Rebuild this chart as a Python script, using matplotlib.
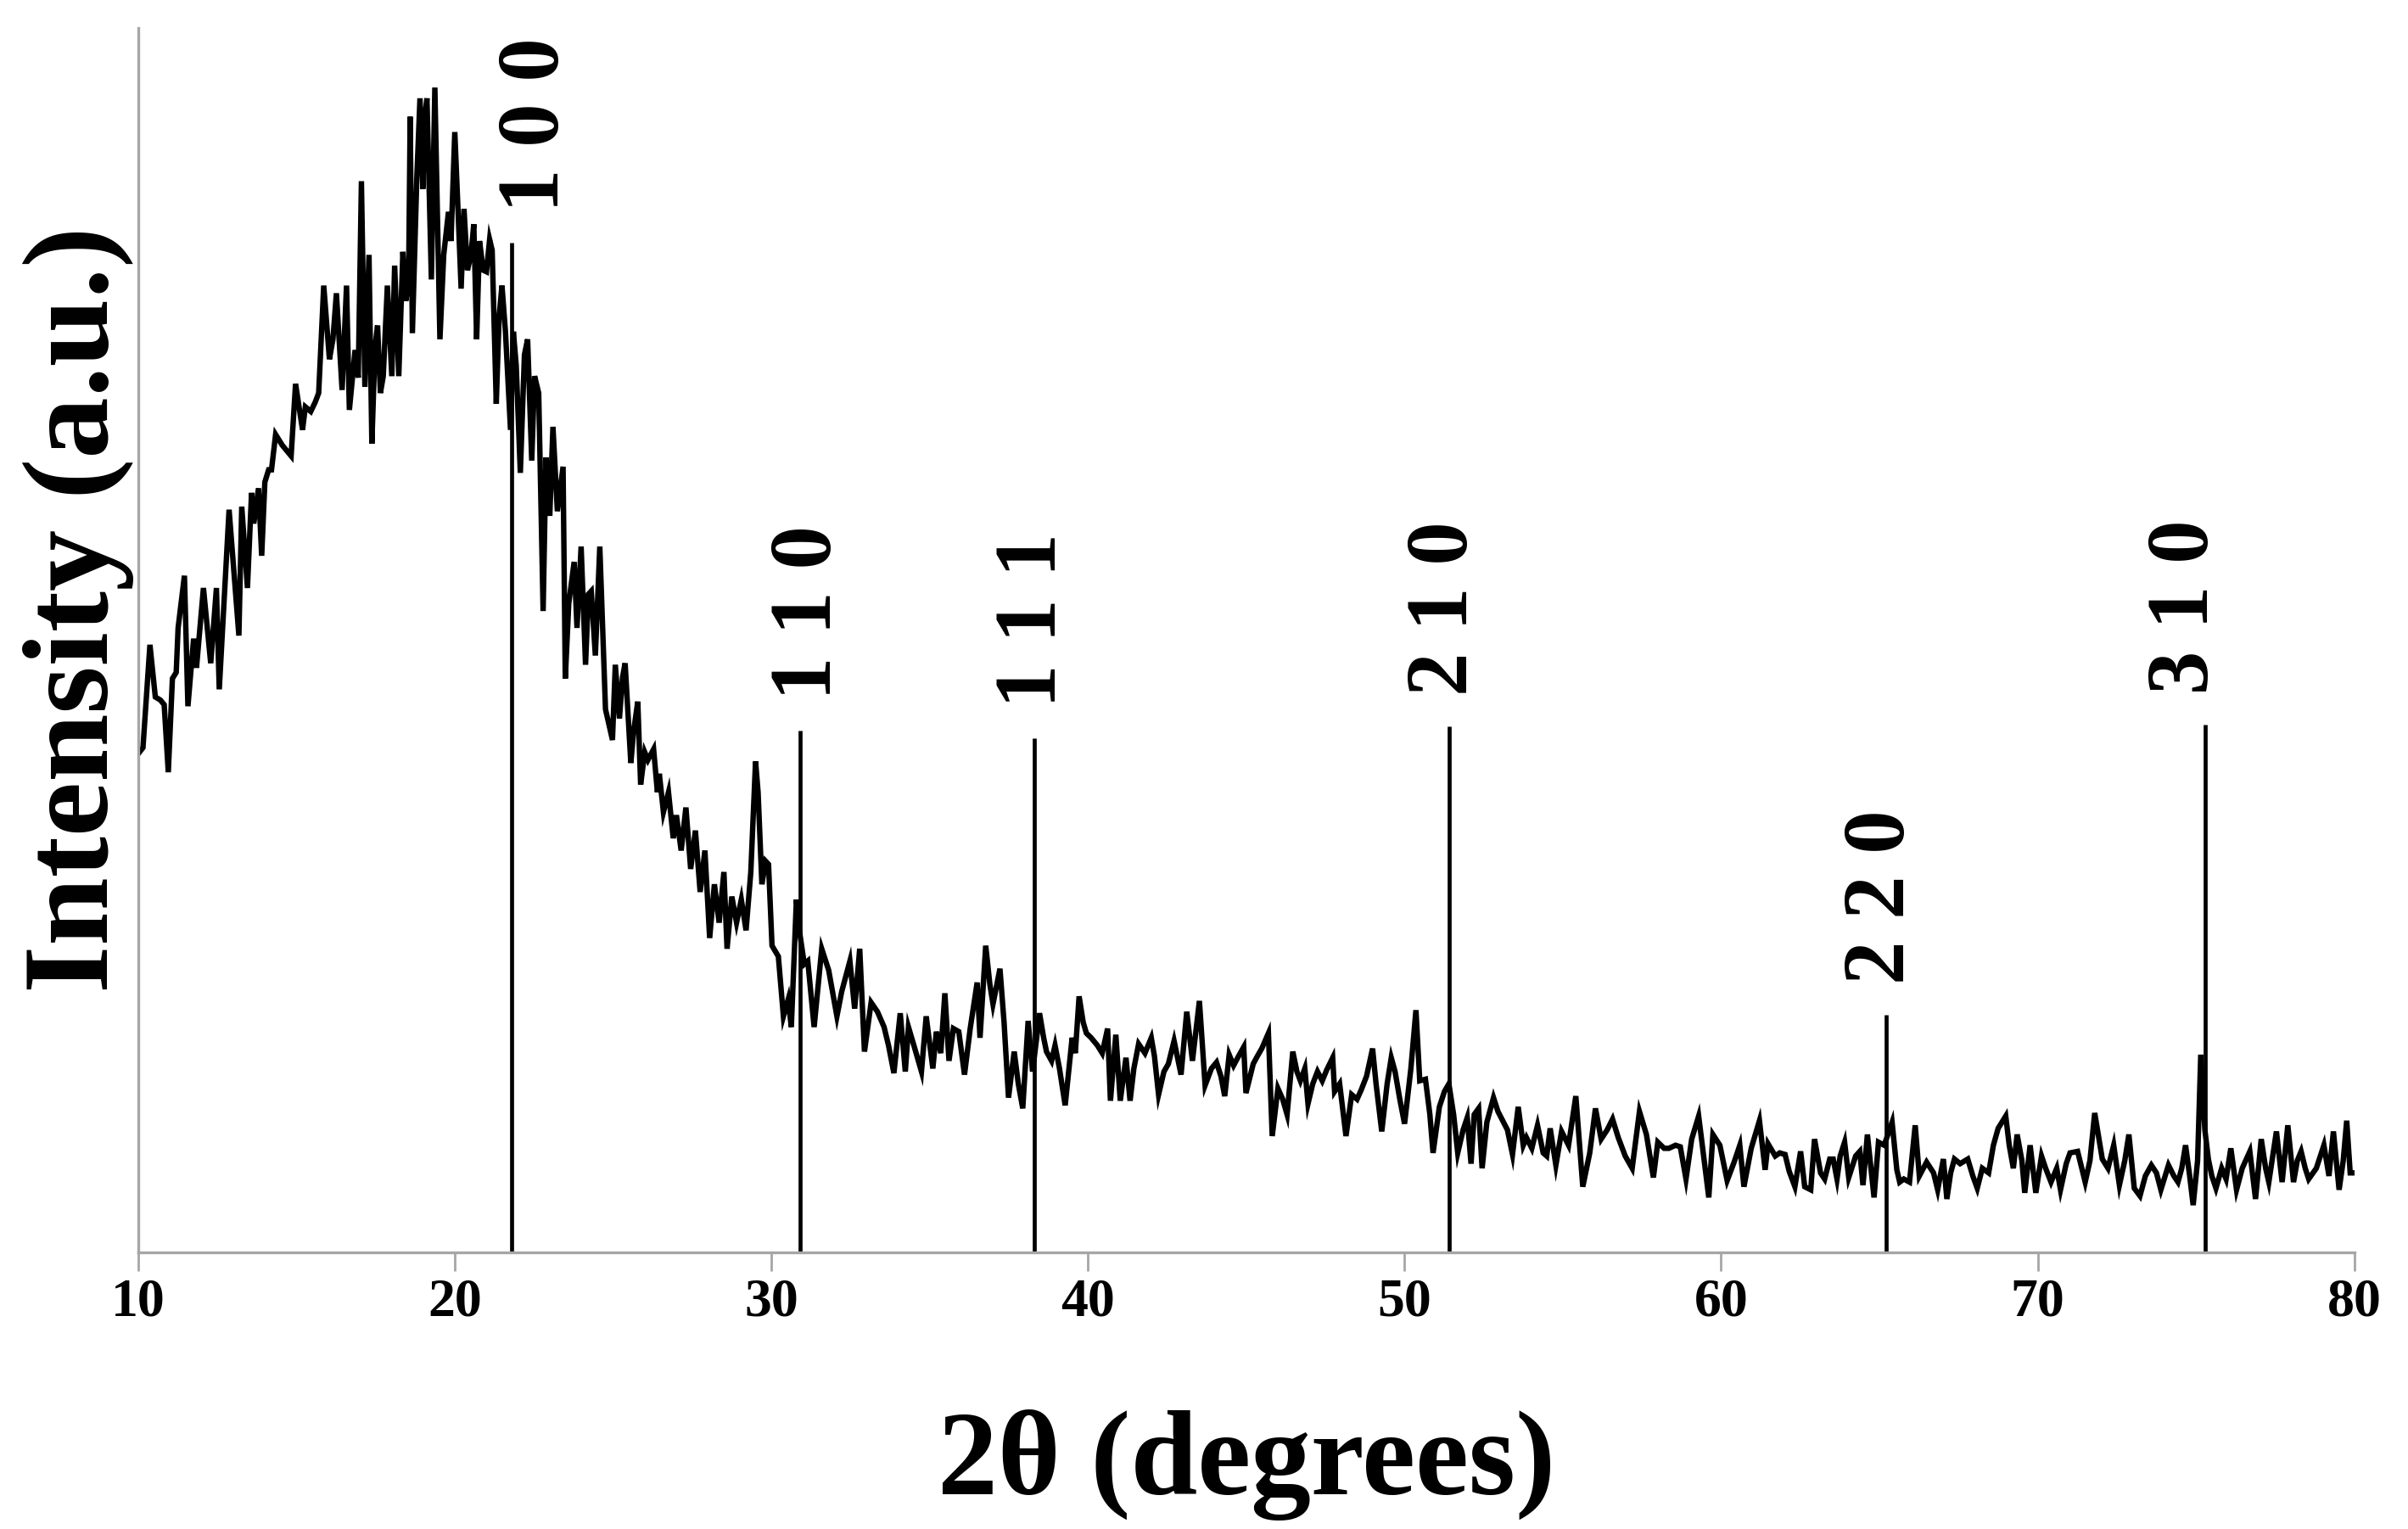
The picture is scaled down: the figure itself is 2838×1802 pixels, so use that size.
import matplotlib
matplotlib.use("Agg")
import matplotlib.pyplot as plt

plt.rcParams['font.family'] = ['Liberation Serif', 'DejaVu Serif']
plt.rcParams['font.weight'] = 'bold'

# measured pattern (2theta, intensity in a.u.)
two_theta = [
    10.00, 10.15, 10.37, 10.54, 10.70, 10.82, 10.95, 11.08, 11.20, 11.26, 11.46, 11.57, 11.75, 11.84,
    12.06, 12.29, 12.47, 12.56, 12.87, 13.18, 13.27, 13.45, 13.58, 13.65, 13.80, 13.90, 14.00, 14.12,
    14.21, 14.34, 14.55, 14.83, 14.97, 15.19, 15.28, 15.45, 15.59, 15.70, 15.86, 16.04, 16.15, 16.26,
    16.44, 16.58, 16.67, 16.85, 16.95, 17.05, 17.16, 17.29, 17.38, 17.48, 17.56, 17.65, 17.74, 17.87,
    18.01, 18.10, 18.23, 18.36, 18.45, 18.54, 18.59, 18.66, 18.80, 18.90, 18.99, 19.05, 19.12, 19.26,
    19.37, 19.53, 19.65, 19.80, 19.88, 20.00, 20.10, 20.20, 20.29, 20.40, 20.51, 20.60, 20.69, 20.78,
    20.90, 21.00, 21.10, 21.18, 21.31, 21.40, 21.49, 21.60, 21.76, 21.85, 21.94, 22.07, 22.20, 22.30,
    22.43, 22.52, 22.65, 22.79, 22.88, 23.00, 23.10, 23.24, 23.42, 23.49, 23.60, 23.77, 23.86, 23.99,
    24.13, 24.22, 24.31, 24.44, 24.58, 24.76, 24.98, 25.07, 25.20, 25.30, 25.38, 25.56, 25.65, 25.78,
    25.87, 26.00, 26.10, 26.28, 26.40, 26.46, 26.59, 26.75, 26.90, 27.00, 27.15, 27.30, 27.45, 27.60,
    27.75, 27.90, 28.05, 28.20, 28.35, 28.50, 28.60, 28.75, 28.90, 29.05, 29.20, 29.35, 29.50, 29.58,
    29.70, 29.82, 29.91, 30.02, 30.22, 30.38, 30.53, 30.63, 30.79, 30.89, 31.04, 31.15, 31.35, 31.59,
    31.81, 32.07, 32.22, 32.48, 32.63, 32.79, 32.94, 33.15, 33.35, 33.56, 33.70, 33.87, 34.07, 34.23,
    34.33, 34.53, 34.74, 34.89, 35.10, 35.21, 35.35, 35.48, 35.61, 35.75, 35.92, 36.10, 36.28, 36.50,
    36.59, 36.77, 36.90, 37.00, 37.22, 37.35, 37.49, 37.67, 37.80, 37.94, 38.11, 38.25, 38.38, 38.47,
    38.60, 38.69, 38.85, 38.96, 39.10, 39.28, 39.50, 39.60, 39.72, 39.85, 39.95, 40.10, 40.30, 40.45,
    40.62, 40.71, 40.88, 41.02, 41.20, 41.33, 41.45, 41.60, 41.80, 42.00, 42.10, 42.23, 42.40, 42.54,
    42.72, 42.94, 43.12, 43.30, 43.52, 43.70, 43.90, 44.06, 44.20, 44.32, 44.46, 44.60, 44.73, 44.92,
    44.99, 45.22, 45.35, 45.49, 45.70, 45.82, 46.00, 46.15, 46.29, 46.47, 46.60, 46.71, 46.85, 46.95,
    47.10, 47.25, 47.40, 47.54, 47.73, 47.79, 47.95, 48.15, 48.33, 48.50, 48.63, 48.80, 48.99, 49.10,
    49.28, 49.45, 49.58, 49.70, 49.85, 50.00, 50.20, 50.36, 50.48, 50.66, 50.80, 50.90, 51.10, 51.26,
    51.40, 51.55, 51.68, 51.85, 51.98, 52.10, 52.20, 52.34, 52.45, 52.60, 52.81, 52.95, 53.05, 53.25,
    53.41, 53.59, 53.75, 53.85, 54.02, 54.20, 54.38, 54.49, 54.60, 54.78, 54.96, 55.18, 55.41, 55.63,
    55.85, 56.03, 56.21, 56.40, 56.57, 56.75, 56.97, 57.19, 57.42, 57.64, 57.86, 58.00, 58.20, 58.35,
    58.56, 58.71, 58.89, 59.07, 59.29, 59.43, 59.61, 59.74, 59.96, 60.19, 60.41, 60.59, 60.72, 60.95,
    61.21, 61.39, 61.48, 61.71, 61.85, 62.02, 62.15, 62.33, 62.51, 62.64, 62.83, 62.95, 63.14, 63.27,
    63.43, 63.54, 63.66, 63.76, 63.90, 64.03, 64.25, 64.38, 64.48, 64.62, 64.83, 64.97, 65.15, 65.40,
    65.55, 65.64, 65.77, 65.95, 66.13, 66.26, 66.49, 66.71, 66.84, 67.02, 67.13, 67.25, 67.37, 67.55,
    67.79, 67.95, 68.09, 68.25, 68.45, 68.60, 68.75, 68.99, 69.10, 69.23, 69.35, 69.50, 69.59, 69.76,
    69.94, 70.12, 70.25, 70.42, 70.60, 70.72, 70.90, 71.02, 71.26, 71.50, 71.65, 71.80, 72.04, 72.22,
    72.40, 72.58, 72.75, 72.88, 73.05, 73.23, 73.40, 73.59, 73.75, 73.89, 74.13, 74.30, 74.43, 74.55,
    74.67, 74.80, 74.91, 75.05, 75.15, 75.28, 75.39, 75.50, 75.63, 75.81, 75.95, 76.10, 76.28, 76.46,
    76.70, 76.88, 77.06, 77.20, 77.30, 77.54, 77.72, 77.90, 78.08, 78.20, 78.32, 78.45, 78.56, 78.80,
    79.04, 79.20, 79.34, 79.52, 79.65, 79.76, 79.87, 80.00,
]
intensity = [
    325, 329, 396, 362, 360, 357, 313, 374, 378, 407, 441, 356, 400, 381,
    433, 384, 433, 367, 484, 402, 486, 433, 495, 475, 498, 454, 502, 510,
    510, 533, 526, 519, 566, 536, 551, 548, 554, 560, 630, 582, 595, 625,
    562, 630, 549, 588, 570, 698, 564, 650, 527, 590, 604, 560, 571, 630,
    571, 643, 571, 652, 620, 632, 740, 599, 700, 752, 693, 740, 752, 634,
    759, 595, 650, 678, 659, 730, 680, 628, 680, 640, 650, 670, 595, 659,
    640, 639, 660, 653, 553, 610, 630, 600, 536, 600, 578, 508, 585, 595,
    516, 571, 560, 418, 518, 480, 538, 483, 512, 374, 423, 450, 407, 460,
    383, 429, 431, 389, 460, 354, 334, 383, 348, 375, 384, 319, 340, 359,
    305, 326, 321, 328, 300, 312, 287, 300, 270, 285, 262, 290, 250, 275,
    235, 262, 205, 240, 215, 248, 198, 232, 215, 230, 210, 248, 320, 300,
    240, 255, 253, 200, 193, 154, 165, 147, 230, 209, 188, 190, 147, 198,
    184, 154, 170, 190, 159, 198, 131, 163, 157, 147, 135, 117, 156, 118,
    147, 133, 118, 154, 120, 144, 130, 169, 125, 146, 144, 116, 146, 176,
    140, 200, 175, 162, 185, 150, 101, 131, 110, 94, 151, 118, 140, 156,
    140, 131, 125, 135, 120, 96, 140, 130, 167, 150, 143, 140, 135, 130,
    146, 99, 142, 99, 127, 99, 120, 136, 130, 140, 128, 103, 118, 123,
    138, 116, 157, 125, 164, 109, 120, 124, 115, 102, 129, 122, 127, 134,
    104, 123, 128, 133, 143, 76, 107, 100, 90, 131, 118, 112, 120, 97,
    110, 118, 112, 119, 127, 105, 110, 76, 103, 100, 106, 115, 133, 110,
    79, 110, 127, 118, 100, 84, 120, 158, 112, 113, 90, 65, 95, 105,
    110, 90, 65, 80, 88, 58, 90, 94, 55, 85, 101, 92, 88, 80,
    64, 95, 70, 75, 68, 83, 65, 63, 81, 57, 79, 70, 102, 43,
    65, 94, 74, 80, 87, 75, 63, 55, 92, 77, 49, 72, 68, 68,
    70, 69, 48, 74, 89, 66, 36, 77, 70, 47, 59, 70, 43, 68,
    86, 54, 71, 63, 65, 64, 53, 43, 66, 43, 41, 74, 52, 48,
    61, 61, 48, 63, 72, 49, 63, 66, 44, 77, 36, 72, 70, 85,
    54, 46, 48, 46, 83, 50, 59, 52, 41, 61, 35, 52, 61, 58,
    61, 50, 42, 55, 52, 70, 81, 89, 70, 55, 77, 60, 39, 70,
    39, 63, 55, 46, 55, 41, 58, 65, 66, 46, 60, 91, 61, 55,
    70, 44, 60, 77, 42, 37, 50, 57, 52, 41, 57, 50, 46, 55,
    70, 50, 31, 60, 129, 80, 61, 50, 42, 55, 48, 68, 41, 55,
    66, 35, 74, 55, 46, 79, 46, 83, 46, 60, 66, 55, 48, 55,
    70, 50, 79, 41, 60, 86, 52, 52,
]

# reference reflections
hkl = ["1 0 0", "1 1 0", "1 1 1", "2 1 0", "2 2 0", "3 1 0"]
ref_pos = [21.8, 30.9, 38.3, 51.4, 65.2, 75.3]
ref_height = [658, 340, 335, 343, 155, 344]
label_dx = [0.8, 0.3, 0.0, -0.1, -0.1, -0.6]

fig = plt.figure(figsize=(14.19, 9.01), dpi=200)
ax = fig.add_axes([0.0574, 0.1807, 0.9203, 0.8012])

ax.plot(two_theta, intensity, color='black', lw=2.3, solid_joinstyle='miter')
ax.vlines(ref_pos, 0, ref_height, color='black', lw=1.7)

for lab, x, h, dx in zip(hkl, ref_pos, ref_height, label_dx):
    ax.text(x + dx, h + 20, lab, rotation=90, ha='center', va='bottom',
            fontsize=37, fontweight='bold')

ax.set_xlim(10, 80)
ax.set_ylim(0, 798)
ax.set_xticks(range(10, 81, 10))
ax.set_yticks([])

grey = '#a6a6a6'
for s in ['top', 'right']:
    ax.spines[s].set_visible(False)
for s in ['left', 'bottom']:
    ax.spines[s].set_color(grey)
    ax.spines[s].set_linewidth(1.2)

ax.tick_params(axis='x', direction='out', length=8, width=1.0, color=grey,
               labelsize=23, pad=3)
for t in ax.get_xticklabels():
    t.set_fontweight('bold')

ax.set_xlabel('2θ (degrees)', fontsize=51, fontweight='bold')
ax.xaxis.set_label_coords(0.5, -0.128)
ax.set_ylabel('Intensity (a.u.)', fontsize=52, fontweight='bold')
ax.yaxis.set_label_coords(-0.002, 0.525)

fig.savefig('out.png', dpi=200)
